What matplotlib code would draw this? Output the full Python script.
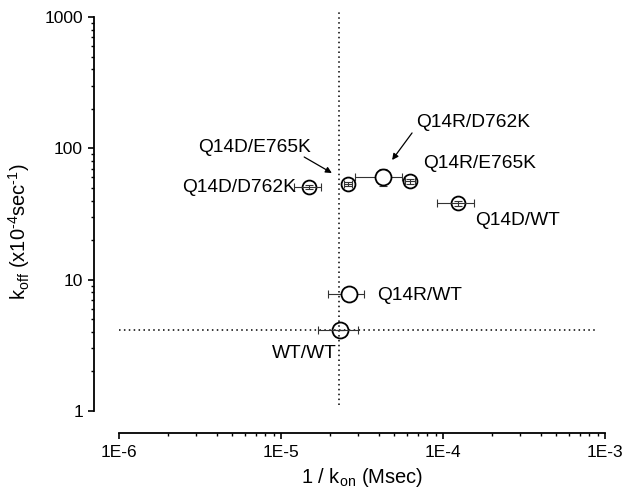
import matplotlib
matplotlib.use('Agg')
import matplotlib.pyplot as plt
from matplotlib.ticker import FixedLocator, FixedFormatter, LogLocator, NullFormatter

plt.rcParams['font.family'] = ['Liberation Sans', 'DejaVu Sans']
plt.rcParams['mathtext.fontset'] = 'custom'
plt.rcParams['mathtext.rm'] = 'Liberation Sans'
plt.rcParams['mathtext.it'] = 'Liberation Sans'

# mutants: 1/kon (Msec) and koff (x10^-4 sec^-1)
names = ['Q14D/D762K', 'Q14D/E765K', 'Q14R/D762K', 'Q14R/E765K',
         'Q14D/WT', 'Q14R/WT', 'WT/WT']
inv_kon = [1.49e-5, 2.59e-5, 4.26e-5, 6.25e-5, 1.24e-4, 2.63e-5, 2.31e-5]
inv_kon_lo = [1.21e-5, 2.45e-5, 2.86e-5, 5.8e-5, 9.2e-5, 1.95e-5, 1.69e-5]
inv_kon_hi = [1.76e-5, 2.74e-5, 5.6e-5, 6.7e-5, 1.55e-4, 3.27e-5, 2.98e-5]
koff = [50.7, 53.5, 60.4, 56.3, 38.3, 7.76, 4.13]
koff_lo = [49.0, 52.0, 51.6, 53.5, 36.5, 7.76, 4.13]
koff_hi = [52.5, 55.0, 69.5, 58.0, 40.0, 7.76, 4.13]
# white-filled markers hide the bars behind them
solid = [False, False, True, False, False, True, False]
big = [False, False, True, False, False, True, True]

# WT reference lines
wt_x = 2.28e-5
wt_y = 4.13

# label placement (data coords)
label_x = [1.24e-5, 6.9e-6, 1.53e-4, 1.67e-4, 2.9e-4, 7.2e-5, 1.39e-5]
label_y = [50.7, 102, 156, 77.3, 28.4, 7.64, 2.76]
label_ha = ['right', 'center', 'center', 'center', 'center', 'center', 'center']
arrow_from = {1: (1.39e-5, 85.9), 2: (6.44e-5, 131)}
arrow_to = {1: (2.06e-5, 64.9), 2: (4.85e-5, 81.5)}

xticks = [1e-6, 1e-5, 1e-4, 1e-3]
xticklabels = ['1E-6', '1E-5', '1E-4', '1E-3']
yticks = [1, 10, 100, 1000]
yticklabels = ['1', '10', '100', '1000']

fig = plt.figure(figsize=(6.24, 4.91), dpi=100)
ax = fig.add_axes([0.1907, 0.1629, 0.7789, 0.8025])
ax.set_xscale('log')
ax.set_yscale('log')
ax.set_xlim(1e-6, 1e-3)
ax.set_ylim(1, 1000)

# dotted reference lines
ax.plot([wt_x, wt_x], [1.11, 1100], ls=(0, (1, 2.2)), color='black', lw=1.1,
        clip_on=False, zorder=1)
ax.plot([1e-6, 8.8e-4], [wt_y, wt_y], ls=(0, (1, 2.2)), color='black', lw=1.1,
        zorder=1)

for i in range(len(names)):
    xe = [[inv_kon[i] - inv_kon_lo[i]], [inv_kon_hi[i] - inv_kon[i]]]
    ye = [[koff[i] - koff_lo[i]], [koff_hi[i] - koff[i]]]
    ms = 11.5 if big[i] else 10
    ax.errorbar([inv_kon[i]], [koff[i]], xerr=xe, yerr=ye, fmt='none',
                ecolor='#333333', elinewidth=0.8, capsize=2.6, capthick=0.8,
                zorder=3 if not solid[i] else 2)
    ax.plot([inv_kon[i]], [koff[i]], 'o', ms=ms,
            mfc='white' if solid[i] else 'none', mec='black', mew=1.3,
            zorder=2.5 if not solid[i] else 4)

for i in range(len(names)):
    if i in arrow_from:
        ax.annotate('', xy=arrow_to[i], xytext=arrow_from[i],
                    arrowprops=dict(arrowstyle='-|>', color='black', lw=0.9,
                                    mutation_scale=9, shrinkA=0, shrinkB=0))
    ax.text(label_x[i], label_y[i], names[i], ha=label_ha[i], va='center',
            fontsize=13.8)

for s in ['top', 'right']:
    ax.spines[s].set_visible(False)
ax.spines['left'].set_position(('outward', 18))
ax.spines['bottom'].set_position(('outward', 15.8))
for s in ['left', 'bottom']:
    ax.spines[s].set_linewidth(1.3)

ax.xaxis.set_major_locator(FixedLocator(xticks))
ax.xaxis.set_major_formatter(FixedFormatter(xticklabels))
ax.yaxis.set_major_locator(FixedLocator(yticks))
ax.yaxis.set_major_formatter(FixedFormatter(yticklabels))
ax.xaxis.set_minor_locator(LogLocator(base=10, subs=range(2, 10)))
ax.yaxis.set_minor_locator(LogLocator(base=10, subs=range(2, 10)))
ax.xaxis.set_minor_formatter(NullFormatter())
ax.yaxis.set_minor_formatter(NullFormatter())
ax.tick_params(which='major', direction='out', length=4, width=1.2, labelsize=12.5)
ax.tick_params(which='minor', direction='out', length=2.3, width=1.0)
ax.tick_params(axis='x', pad=5)
ax.tick_params(axis='y', pad=4)

ax.set_xlabel(r'1 / k$_{\rm on}$ (Msec)', fontsize=14.5, labelpad=4)
ax.set_ylabel('k$_{\\rm off}$ (x10$^{\\rm \u20104}$sec$^{\\rm \u20101}$)',
              fontsize=14.5)
ax.yaxis.set_label_coords(-0.178, 0.454)

fig.savefig('out.png', dpi=100)
